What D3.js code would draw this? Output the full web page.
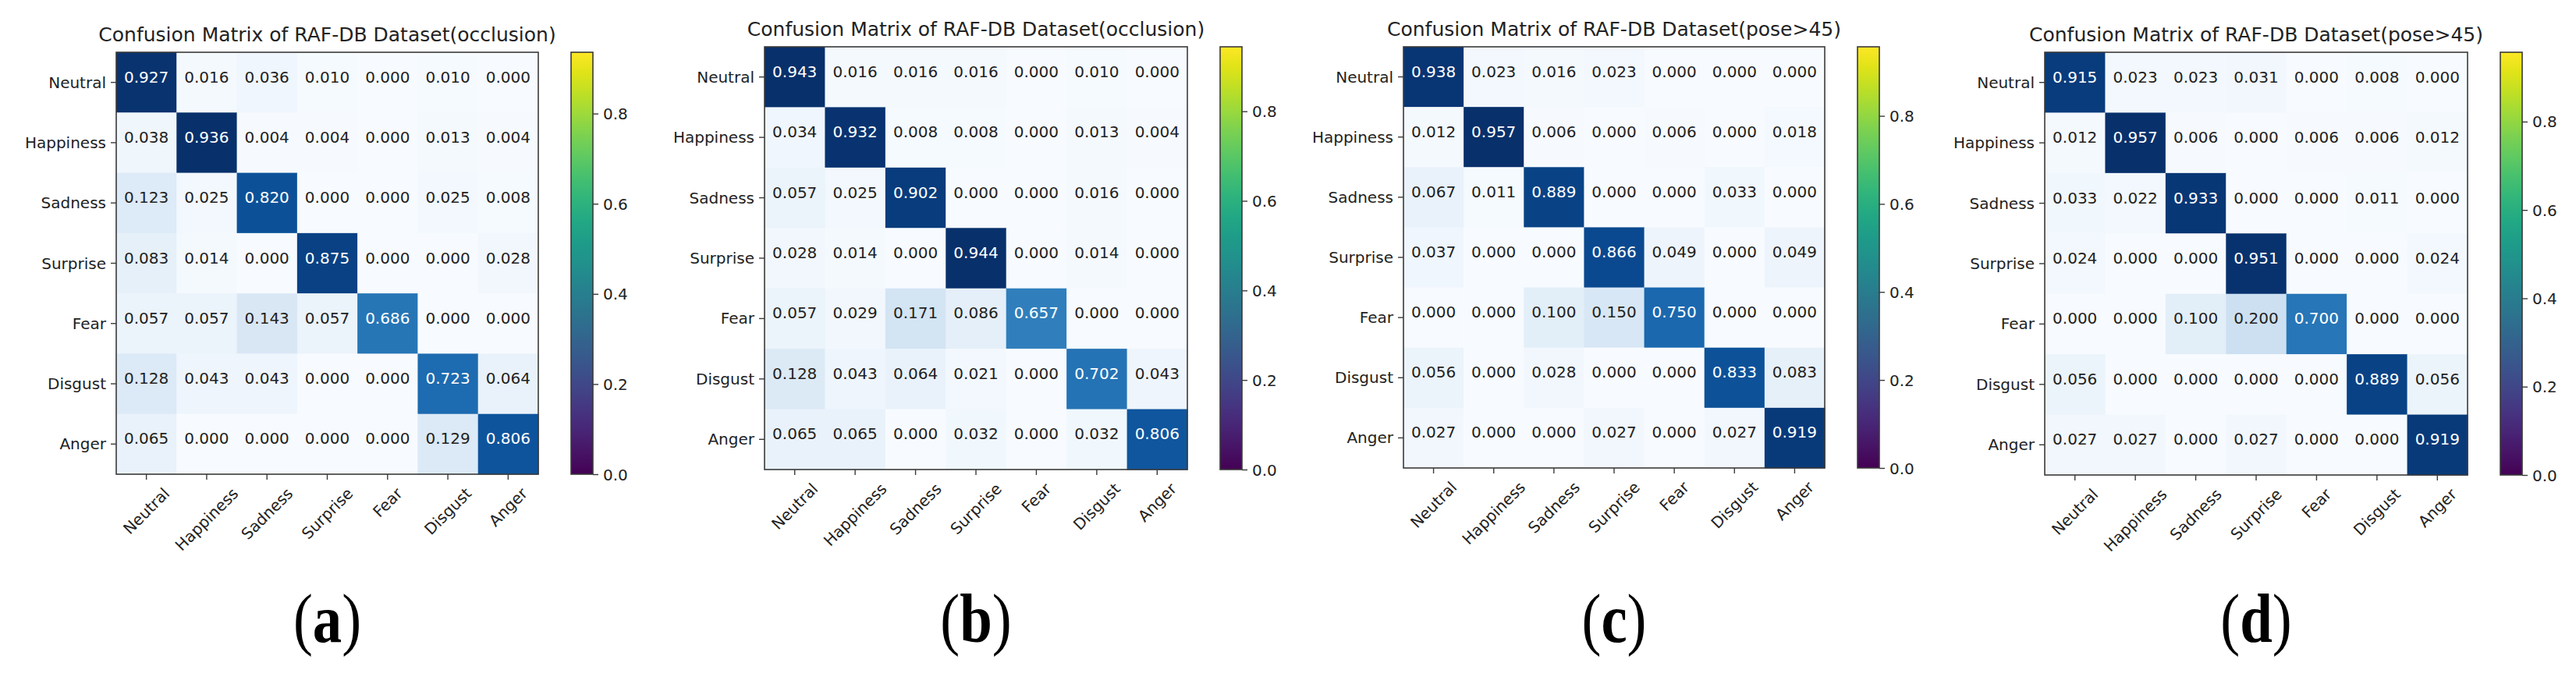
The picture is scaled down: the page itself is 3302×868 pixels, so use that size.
<!DOCTYPE html>
<html>
<head>
<meta charset="utf-8">
<script src="https://cdn.jsdelivr.net/npm/d3@7"></script>
<style>
  body { margin: 0; background: #fff; }
  svg text { font-family: "DejaVu Sans", sans-serif; fill: #222; }
  .caption text, text.caption { font-family: "Liberation Serif", "DejaVu Serif", serif; fill: #000; }
</style>
</head>
<body>
<svg id="fig" width="3302" height="868"></svg>
<script>
// emotion classes, same order on both axes
const classes = ['Neutral', 'Happiness', 'Sadness', 'Surprise', 'Fear', 'Disgust', 'Anger'];

const titles = [
  'Confusion Matrix of RAF-DB Dataset(occlusion)',
  'Confusion Matrix of RAF-DB Dataset(occlusion)',
  'Confusion Matrix of RAF-DB Dataset(pose>45)',
  'Confusion Matrix of RAF-DB Dataset(pose>45)'
];
const captions = ['a', 'b', 'c', 'd'];

// rows = true label, cols = predicted
const cm_a = [
  [0.927, 0.016, 0.036, 0.010, 0.000, 0.010, 0.000],
  [0.038, 0.936, 0.004, 0.004, 0.000, 0.013, 0.004],
  [0.123, 0.025, 0.820, 0.000, 0.000, 0.025, 0.008],
  [0.083, 0.014, 0.000, 0.875, 0.000, 0.000, 0.028],
  [0.057, 0.057, 0.143, 0.057, 0.686, 0.000, 0.000],
  [0.128, 0.043, 0.043, 0.000, 0.000, 0.723, 0.064],
  [0.065, 0.000, 0.000, 0.000, 0.000, 0.129, 0.806]
];
const cm_b = [
  [0.943, 0.016, 0.016, 0.016, 0.000, 0.010, 0.000],
  [0.034, 0.932, 0.008, 0.008, 0.000, 0.013, 0.004],
  [0.057, 0.025, 0.902, 0.000, 0.000, 0.016, 0.000],
  [0.028, 0.014, 0.000, 0.944, 0.000, 0.014, 0.000],
  [0.057, 0.029, 0.171, 0.086, 0.657, 0.000, 0.000],
  [0.128, 0.043, 0.064, 0.021, 0.000, 0.702, 0.043],
  [0.065, 0.065, 0.000, 0.032, 0.000, 0.032, 0.806]
];
const cm_c = [
  [0.938, 0.023, 0.016, 0.023, 0.000, 0.000, 0.000],
  [0.012, 0.957, 0.006, 0.000, 0.006, 0.000, 0.018],
  [0.067, 0.011, 0.889, 0.000, 0.000, 0.033, 0.000],
  [0.037, 0.000, 0.000, 0.866, 0.049, 0.000, 0.049],
  [0.000, 0.000, 0.100, 0.150, 0.750, 0.000, 0.000],
  [0.056, 0.000, 0.028, 0.000, 0.000, 0.833, 0.083],
  [0.027, 0.000, 0.000, 0.027, 0.000, 0.027, 0.919]
];
const cm_d = [
  [0.915, 0.023, 0.023, 0.031, 0.000, 0.008, 0.000],
  [0.012, 0.957, 0.006, 0.000, 0.006, 0.006, 0.012],
  [0.033, 0.022, 0.933, 0.000, 0.000, 0.011, 0.000],
  [0.024, 0.000, 0.000, 0.951, 0.000, 0.000, 0.024],
  [0.000, 0.000, 0.100, 0.200, 0.700, 0.000, 0.000],
  [0.056, 0.000, 0.000, 0.000, 0.000, 0.889, 0.056],
  [0.027, 0.027, 0.000, 0.027, 0.000, 0.000, 0.919]
];
const matrices = [cm_a, cm_b, cm_c, cm_d];

const cbar_ticks = [0.0, 0.2, 0.4, 0.6, 0.8];

// where each subplot sits on the page
const panel_pos = [
  { left: 149, top: 67, size: 541 },
  { left: 980, top: 60, size: 542 },
  { left: 1799, top: 60, size: 540 },
  { left: 2621, top: 67, size: 542 }
];

const svg = d3.select('#fig');
const tick_len = 7;
const border = '#3a3a3a';

// viridis gradient for the colorbars (matplotlib default cmap)
const defs = svg.append('defs');
const grad = defs.append('linearGradient')
  .attr('id', 'viridis')
  .attr('x1', 0).attr('y1', 1).attr('x2', 0).attr('y2', 0);
d3.range(0, 1.0001, 0.05).forEach(t => {
  grad.append('stop').attr('offset', t).attr('stop-color', d3.interpolateViridis(t));
});

function draw_panel(i) {
  const cm = matrices[i];
  const p = panel_pos[i];
  const vmax = d3.max(cm.flat());
  const thresh = vmax / 2;

  const x = d3.scaleBand().domain(classes).range([p.left, p.left + p.size]);
  const y = d3.scaleBand().domain(classes).range([p.top, p.top + p.size]);
  const color = d3.scaleSequential(d3.interpolateBlues).domain([0, vmax]);

  const g = svg.append('g');

  const cells = [];
  cm.forEach((row, r) => row.forEach((v, c) => cells.push({ r: classes[r], c: classes[c], v: v })));

  g.selectAll('rect.cell')
    .data(cells)
    .enter()
    .append('rect')
    .attr('class', 'cell')
    .attr('x', d => x(d.c))
    .attr('y', d => y(d.r))
    .attr('width', x.bandwidth() + 0.5)
    .attr('height', y.bandwidth() + 0.5)
    .attr('fill', d => color(d.v));

  g.selectAll('text.val')
    .data(cells)
    .enter()
    .append('text')
    .attr('class', 'val')
    .attr('x', d => x(d.c) + x.bandwidth() / 2)
    .attr('y', d => y(d.r) + y.bandwidth() / 2 - 7)
    .attr('text-anchor', 'middle')
    .attr('dominant-baseline', 'central')
    .style('font-size', '20px')
    .style('fill', d => d.v > thresh ? '#fff' : '#222')
    .text(d => d.v.toFixed(3));

  // frame
  g.append('rect')
    .attr('x', p.left).attr('y', p.top)
    .attr('width', p.size).attr('height', p.size)
    .attr('fill', 'none').attr('stroke', border).attr('stroke-width', 1.6);

  // y axis
  const ya = g.append('g')
    .attr('transform', `translate(${p.left},0)`)
    .call(d3.axisLeft(y).tickSize(tick_len).tickSizeOuter(0).tickPadding(6));
  ya.select('.domain').remove();
  ya.selectAll('line').attr('stroke', border).attr('stroke-width', 1.4);
  ya.selectAll('text')
    .attr('dy', null)
    .attr('dominant-baseline', 'central')
    .style('font-size', '20px')
    .style('font-family', '"DejaVu Sans", sans-serif')
    .style('fill', '#222');

  // x axis, labels rotated 45 deg and centred under the tick
  const xa = g.append('g')
    .attr('transform', `translate(0,${p.top + p.size})`)
    .call(d3.axisBottom(x).tickSize(tick_len).tickSizeOuter(0));
  xa.select('.domain').remove();
  xa.selectAll('line').attr('stroke', border).attr('stroke-width', 1.4);
  xa.selectAll('text')
    .style('font-size', '20px')
    .style('font-family', '"DejaVu Sans", sans-serif')
    .style('fill', '#222')
    .attr('dy', null)
    .attr('y', 0)
    .attr('text-anchor', 'middle')
    .attr('dominant-baseline', 'central')
    .attr('transform', function() {
      const w = this.getComputedTextLength();
      const off = tick_len + 7 + (w + 20) * Math.SQRT1_2 / 2;
      return `translate(0,${off}) rotate(-45)`;
    });

  // title
  g.append('text')
    .attr('x', p.left + p.size / 2)
    .attr('y', p.top - 14)
    .attr('text-anchor', 'middle')
    .style('font-size', '25px')
    .text(titles[i]);

  // colorbar
  const cb_x = p.left + p.size + 42;
  const cb_w = 28;
  const cs = d3.scaleLinear().domain([0, vmax]).range([p.top + p.size, p.top]);
  g.append('rect')
    .attr('x', cb_x).attr('y', p.top)
    .attr('width', cb_w).attr('height', p.size)
    .attr('fill', 'url(#viridis)')
    .attr('stroke', border).attr('stroke-width', 1.6);
  const ca = g.append('g')
    .attr('transform', `translate(${cb_x + cb_w},0)`)
    .call(d3.axisRight(cs).tickValues(cbar_ticks).tickFormat(d3.format('.1f'))
      .tickSize(tick_len).tickSizeOuter(0).tickPadding(6));
  ca.select('.domain').remove();
  ca.selectAll('line').attr('stroke', border).attr('stroke-width', 1.4);
  ca.selectAll('text')
    .attr('dy', null)
    .attr('dominant-baseline', 'central')
    .style('font-size', '20px')
    .style('font-family', '"DejaVu Sans", sans-serif')
    .style('fill', '#222');

  // sub-figure caption (a), (b) ...
  const cap = g.append('text')
    .attr('class', 'caption')
    .attr('text-anchor', 'middle')
    .attr('transform', `translate(${p.left + p.size / 2},823) scale(0.85,1)`)
    .style('font-size', '88px');
  cap.append('tspan').text('(');
  cap.append('tspan').style('font-weight', 'bold').text(captions[i]);
  cap.append('tspan').text(')');
}

matrices.forEach((m, i) => draw_panel(i));
</script>
</body>
</html>
